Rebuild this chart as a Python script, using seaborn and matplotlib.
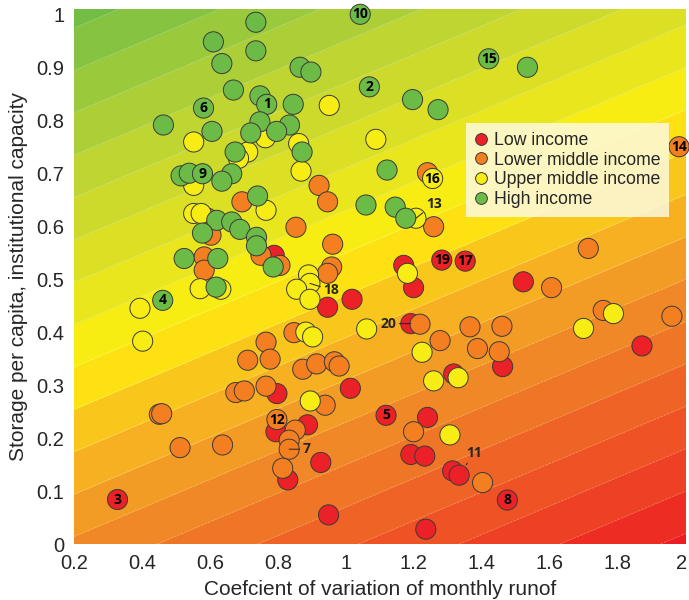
import matplotlib
matplotlib.use('Agg')
import matplotlib.pyplot as plt
import matplotlib.transforms as mtransforms
from matplotlib.colors import LinearSegmentedColormap, Normalize
from matplotlib.lines import Line2D
from matplotlib.ticker import FuncFormatter
import seaborn as sns
import pandas as pd
import numpy as np

# --- data (cv of runoff, storage/institutional capacity) ---
low_x = [0.328, 1.018, 0.946, 1.013, 0.797, 0.794, 0.887, 0.829, 0.926, 0.949,
         1.118, 0.789, 1.170, 1.199, 1.282, 1.351, 1.522, 1.191, 1.317, 1.461,
         1.240, 1.191, 1.232, 1.871, 1.314, 1.333, 1.475, 1.235]
low_y = [0.084, 0.462, 0.447, 0.294, 0.284, 0.212, 0.225, 0.121, 0.154, 0.055,
         0.243, 0.545, 0.526, 0.484, 0.536, 0.534, 0.495, 0.416, 0.321, 0.335,
         0.239, 0.169, 0.166, 0.374, 0.138, 0.130, 0.083, 0.028]

lmid_x = [0.921, 0.946, 0.694, 0.853, 0.961, 0.593, 0.603, 0.583, 0.583, 0.750,
          0.806, 0.958, 0.946, 0.847, 0.765, 0.711, 0.777, 0.873, 0.914, 0.966,
          0.980, 0.676, 0.701, 0.765, 0.939, 0.451, 0.458, 0.512, 0.637, 0.797,
          0.851, 0.833, 0.833, 0.814, 1.240, 1.258, 1.218, 1.277, 1.365, 1.459,
          1.387, 1.451, 1.199, 1.605, 1.757, 1.959, 1.402, 1.713, 1.980]
lmid_y = [0.677, 0.646, 0.646, 0.598, 0.566, 0.615, 0.583, 0.542, 0.517, 0.545,
          0.526, 0.523, 0.511, 0.399, 0.381, 0.347, 0.349, 0.330, 0.340, 0.344,
          0.336, 0.286, 0.289, 0.298, 0.262, 0.245, 0.246, 0.182, 0.187, 0.235,
          0.215, 0.196, 0.179, 0.143, 0.701, 0.599, 0.415, 0.384, 0.410, 0.411,
          0.369, 0.363, 0.212, 0.484, 0.441, 0.430, 0.116, 0.558, 0.750]

umid_x = [0.951, 1.088, 0.552, 0.763, 0.861, 0.711, 0.684, 0.868, 0.552, 0.765,
          0.552, 0.574, 0.890, 0.571, 0.632, 0.394, 0.402, 0.894, 0.855, 0.894,
          0.882, 0.902, 0.895, 1.061, 1.255, 1.206, 1.181, 1.224, 1.258, 1.330,
          1.306, 1.699, 1.787]
umid_y = [0.828, 0.764, 0.759, 0.767, 0.756, 0.740, 0.728, 0.704, 0.677, 0.630,
          0.624, 0.624, 0.508, 0.482, 0.481, 0.445, 0.383, 0.492, 0.481, 0.462,
          0.400, 0.391, 0.270, 0.406, 0.690, 0.615, 0.511, 0.362, 0.308, 0.314,
          0.206, 0.407, 0.435]

high_x = [0.735, 0.610, 0.735, 0.635, 0.865, 0.897, 0.669, 0.747, 0.767, 0.845,
          0.581, 0.463, 0.747, 0.834, 0.606, 0.720, 0.796, 0.674, 0.871, 0.515,
          0.539, 0.578, 0.664, 0.635, 0.740, 0.620, 0.664, 0.688, 0.578, 0.737,
          0.737, 0.524, 0.623, 0.786, 1.059, 1.121, 1.042, 1.420, 1.534, 1.069,
          1.196, 1.271, 1.145, 1.176, 0.618, 0.461]
high_y = [0.985, 0.948, 0.931, 0.907, 0.900, 0.891, 0.857, 0.846, 0.830, 0.830,
          0.823, 0.791, 0.797, 0.791, 0.779, 0.776, 0.779, 0.740, 0.740, 0.695,
          0.700, 0.699, 0.699, 0.685, 0.657, 0.611, 0.608, 0.594, 0.587, 0.579,
          0.563, 0.539, 0.539, 0.523, 0.640, 0.706, 1.000, 0.916, 0.900, 0.863,
          0.839, 0.820, 0.636, 0.615, 0.485, 0.460]

groups = ['Low income', 'Lower middle income', 'Upper middle income', 'High income']
group_colors = ['#ec2027', '#f37f21', '#f7ec13', '#6bbb46']

# numbered basins: label -> (x, y)
inside_labels = {'1': (0.767, 0.830), '2': (1.069, 0.863), '3': (0.328, 0.084),
                 '4': (0.461, 0.460), '5': (1.118, 0.243), '6': (0.581, 0.823),
                 '8': (1.475, 0.083), '9': (0.578, 0.699), '10': (1.042, 1.000),
                 '12': (0.797, 0.235), '14': (1.980, 0.750), '15': (1.420, 0.916),
                 '16': (1.255, 0.690), '17': (1.351, 0.534), '19': (1.282, 0.536)}
leader_labels = {'7': ((0.833, 0.179), (0.885, 0.179)),
                 '11': ((1.333, 0.130), (1.378, 0.172)),
                 '13': ((1.206, 0.615), (1.259, 0.642)),
                 '18': ((0.894, 0.492), (0.958, 0.479)),
                 '20': ((1.191, 0.416), (1.124, 0.416))}

df = pd.concat([
    pd.DataFrame({'cv': low_x, 'storage': low_y, 'income': groups[0]}),
    pd.DataFrame({'cv': lmid_x, 'storage': lmid_y, 'income': groups[1]}),
    pd.DataFrame({'cv': umid_x, 'storage': umid_y, 'income': groups[2]}),
    pd.DataFrame({'cv': high_x, 'storage': high_y, 'income': groups[3]}),
], ignore_index=True)

sns.set_style('white')
plt.rcParams['font.family'] = ['Liberation Sans', 'DejaVu Sans']

fig = plt.figure(figsize=(6.89, 6.0), dpi=100)
ax = fig.add_axes([0.1074, 0.0933, 0.888, 0.8917])

# background risk surface: diagonal bands green -> yellow -> red
xx, yy = np.meshgrid(np.linspace(0.2, 2.0, 300), np.linspace(0, 1.01, 300))
ff = yy - 0.27 * xx
bg = LinearSegmentedColormap.from_list('bg', [
    (0.00, '#ec1c24'), (0.13, '#ee4c25'), (0.30, '#f08428'), (0.36, '#f39a25'),
    (0.46, '#f8c21d'), (0.55, '#fff00e'), (0.66, '#e1e222'), (0.80, '#bcd434'),
    (1.00, '#74bd44')])
levels = np.arange(-0.60, 1.05, 0.08)
ax.contourf(xx, yy, ff, levels=levels, cmap=bg, norm=Normalize(-0.55, 0.96))
ax.contour(xx, yy, ff, levels=levels, colors='white', linewidths=0.5, alpha=0.3)

sns.scatterplot(data=df, x='cv', y='storage', hue='income', hue_order=groups,
                palette=group_colors, s=210, edgecolor='#3a3a3a', linewidth=0.7,
                alpha=1, legend=False, ax=ax, zorder=3)
ax.collections[-1].set_clip_on(False)

for lab, (x, y) in inside_labels.items():
    ax.text(x, y, lab, ha='center', va='center', fontsize=10, fontweight='bold',
            family=['Open Sans', 'DejaVu Sans'], color='black', zorder=5,
            clip_on=False)
for lab, (pt, txt) in leader_labels.items():
    ax.annotate(lab, xy=pt, xytext=txt, ha='center', va='center', fontsize=10,
                fontweight='bold', family=['Open Sans', 'DejaVu Sans'],
                arrowprops=dict(arrowstyle='-', lw=0.7, color='#222222',
                                shrinkA=0, shrinkB=9), zorder=5)

ax.set_xlim(0.2, 2.0)
ax.set_ylim(0, 1.01)
ax.set_xticks(np.arange(0.2, 2.01, 0.2))
ax.set_yticks(np.arange(0, 1.01, 0.1))
fmt = FuncFormatter(lambda v, p: '%g' % round(v, 2))
ax.xaxis.set_major_formatter(fmt)
ax.yaxis.set_major_formatter(fmt)
ax.tick_params(axis='both', direction='out', length=4, width=0.8, color='#333333',
               labelsize=14.5, pad=3)
for s in ax.spines.values():
    s.set_visible(False)

# nudge the last x tick label so it stays inside the figure
last = ax.get_xticklabels()[-1]
last.set_transform(last.get_transform() +
                   mtransforms.ScaledTranslation(-4 / 100, 0, fig.dpi_scale_trans))

ax.set_xlabel('Coefcient of variation of monthly runof', fontsize=15, labelpad=5)
ax.set_ylabel('Storage per capita, institutional capacity', fontsize=15, labelpad=6)

handles = [Line2D([], [], marker='o', linestyle='', markersize=8.5,
                  markerfacecolor=c, markeredgecolor='#3a3a3a', markeredgewidth=0.7,
                  label=g) for g, c in zip(groups, group_colors)]
leg = ax.legend(handles=handles, loc='upper left',
                bbox_to_anchor=((466 - 74) / 612, (544 - 123) / 535),
                frameon=True, fancybox=False, borderaxespad=0, fontsize=12.7,
                handlelength=0.7, handletextpad=0.4, labelspacing=0.16,
                borderpad=0.5, framealpha=0.85)
leg.get_frame().set_facecolor('#fdf9df')
leg.get_frame().set_edgecolor('none')
leg.set_zorder(6)

plt.savefig('out.png', dpi=100)
plt.close()
